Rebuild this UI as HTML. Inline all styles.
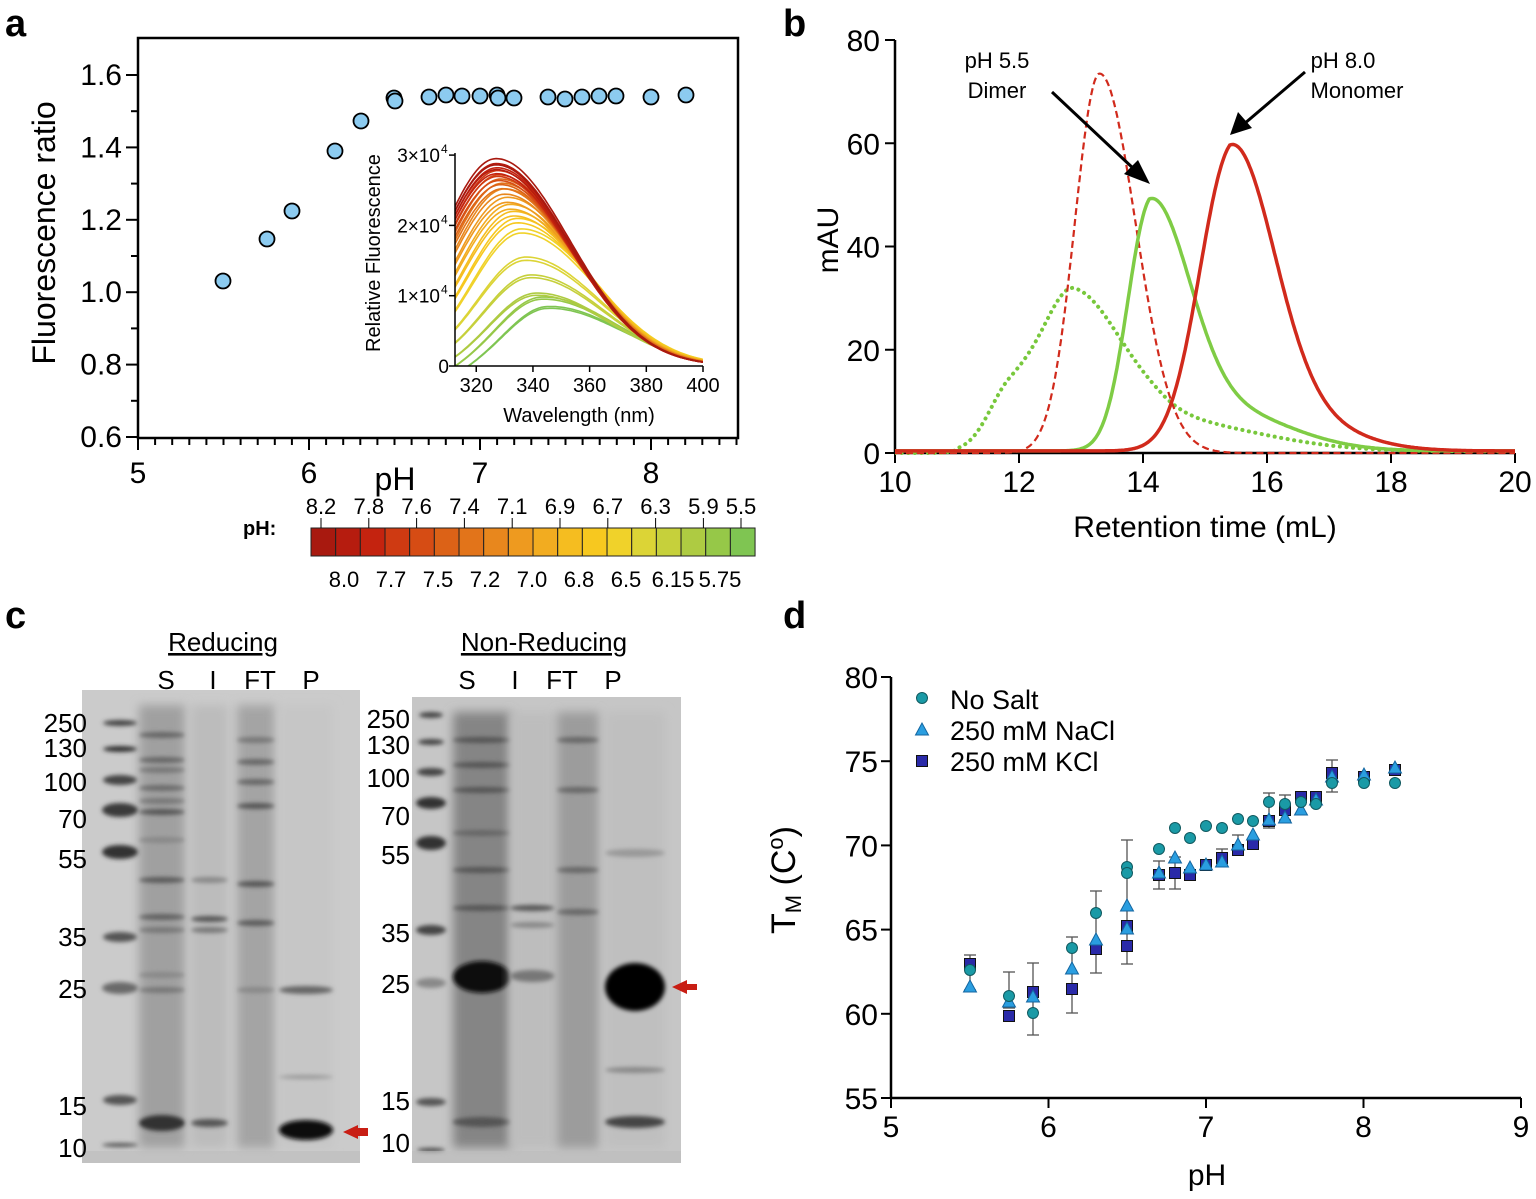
<!DOCTYPE html>
<html><head><meta charset="utf-8"><style>
html,body{margin:0;padding:0;background:#fff;}
svg{display:block;font-family:"Liberation Sans",Arial,sans-serif;}
</style></head><body>
<svg id="s" width="1536" height="1199" viewBox="0 0 1536 1199" xmlns="http://www.w3.org/2000/svg">
<defs>
<filter id="bl" x="-20%" y="-200%" width="140%" height="500%"><feGaussianBlur stdDeviation="2.2"/></filter>
<filter id="bl2" x="-20%" y="-50%" width="140%" height="200%"><feGaussianBlur stdDeviation="5"/></filter>
<clipPath id="ins"><rect x="455" y="153" width="248" height="213"/></clipPath>
<clipPath id="bc"><rect x="895" y="35" width="625" height="420"/></clipPath>
<clipPath id="g1"><rect x="82" y="690" width="278" height="473"/></clipPath>
<clipPath id="g2"><rect x="412" y="697" width="269" height="466"/></clipPath>
</defs>
<g font-weight="bold" font-size="38">
<text x="5" y="36">a</text><text x="783" y="36">b</text><text x="5" y="628">c</text><text x="783" y="628">d</text>
</g>
<g id="A"></g><g id="B"></g><g id="C"></g><g id="D"></g>
</svg>
<script>
const NS="http://www.w3.org/2000/svg";
function el(p,t,a,txt){const e=document.createElementNS(NS,t);for(const k in a)e.setAttribute(k,a[k]);if(txt!==undefined)e.textContent=txt;p.appendChild(e);return e;}
const A=document.getElementById('A'),B=document.getElementById('B'),C=document.getElementById('C'),D=document.getElementById('D');
// ---------- Panel a ----------
el(A,'rect',{x:138,y:38,width:600,height:400,fill:'none',stroke:'#000','stroke-width':2.5});
const ax=v=>138+(v-5)*171, ay=v=>437-(v-0.6)*362;
for(let v=5;v<=8.5;v+=0.1){const x=ax(v);if(x>738)break;const maj=Math.abs(v-Math.round(v))<0.01;el(A,'line',{x1:x,x2:x,y1:438,y2:maj?450:445,stroke:'#000','stroke-width':2});}
[5,6,7,8].forEach(v=>el(A,'text',{x:ax(v),y:483,'font-size':30,'text-anchor':'middle'},v));
for(let i=0;i<=10;i++){const v=0.6+i*0.1,y=ay(v);el(A,'line',{x1:i%2?131:126,x2:138,y1:y,y2:y,stroke:'#000','stroke-width':2});
 if(i%2==0)el(A,'text',{x:122,y:y+10,'font-size':30,'text-anchor':'end'},v.toFixed(1));}
el(A,'text',{x:395,y:490,'font-size':32,'text-anchor':'middle'},'pH');
el(A,'text',{x:0,y:0,'font-size':32,'text-anchor':'middle',transform:'translate(55,233) rotate(-90)'},'Fluorescence ratio');
[[223,281],[267,239],[292,211],[335,151],[361,121],[394,98],[395,101],[429,97],[446,95],[462,96],[480,96],[497,95],[498,98],[514,98],[548,97],[565,99],[582,97],[599,96],[616,96],[651,97],[686,95]].forEach(p=>el(A,'circle',{cx:p[0],cy:p[1],r:7.5,fill:'#8ccbf0',stroke:'#000','stroke-width':1.8}));
// inset
const cols=['#a8190f','#b61c0f','#c4230f','#cf3a12','#d64c14','#dc6217','#e2741a','#e8871d','#ee9a1f','#f2ac20','#f5bd20','#f7c81f','#f0d22a','#dcd436','#c6d03b','#aecb42','#96c848','#7fc552'];
const amps=[2.95,2.88,2.82,2.78,2.72,2.66,2.6,2.52,2.4,2.3,2.2,2.1,1.95,1.55,1.3,1.05,1.0,0.87];
const ix=l=>455+(l-312.5)*(248/87.5), iy=v=>366-v*70.3;
const ig=el(A,'g',{'clip-path':'url(#ins)'});
for(let i=17;i>=0;i--){for(let r=0;r<2;r++){const t=i/17;const Am=amps[i]*(1-0.03*r);const pk=327+18*t*t;const sl=20-5*t*t;let d='';
 for(let l=310;l<=401;l+=1){const dl=l-pk;const s=dl<0?sl:26;let v=Am*Math.exp(-dl*dl/(2*s*s));if(t>0.8)v-=0.25*(t-0.8)*5*Math.exp(-(l-310)/15);d+=(l==310?'M':'L')+ix(l).toFixed(1)+','+iy(v).toFixed(1);}
 el(ig,'path',{d:d,fill:'none',stroke:cols[i],'stroke-width':1.6});}}
el(A,'line',{x1:455,x2:455,y1:153,y2:366,stroke:'#000','stroke-width':1.5});
el(A,'line',{x1:455,x2:703,y1:366,y2:366,stroke:'#000','stroke-width':1.5});
[[0,'0'],[1,'1×10'],[2,'2×10'],[3,'3×10']].forEach(p=>{const y=iy(p[0]);el(A,'line',{x1:449,x2:455,y1:y,y2:y,stroke:'#000','stroke-width':1.5});
 el(A,'text',{x:p[0]?440:449,y:y+7,'font-size':19,'text-anchor':'end'},p[1]);if(p[0])el(A,'text',{x:441,y:y-2,'font-size':12},'4');});
[320,340,360,380,400].forEach(v=>{el(A,'line',{x1:ix(v),x2:ix(v),y1:366,y2:372,stroke:'#000','stroke-width':1.5});el(A,'text',{x:ix(v),y:392,'font-size':20,'text-anchor':'middle'},v);});
el(A,'text',{x:579,y:422,'font-size':20,'text-anchor':'middle'},'Wavelength (nm)');
el(A,'text',{x:0,y:0,'font-size':20,'text-anchor':'middle',transform:'translate(380,253) rotate(-90)'},'Relative Fluorescence');
// colorbar
el(A,'text',{x:243,y:535,'font-size':20,'font-weight':'bold'},'pH:');
for(let i=0;i<18;i++)el(A,'rect',{x:311+i*24.67,y:528,width:24.67,height:28,fill:cols[i],stroke:'#222','stroke-width':1});
['8.2','7.8','7.6','7.4','7.1','6.9','6.7','6.3','5.9','5.5'].forEach((s,i)=>{const xx=i==9?741:321+i*47.8;el(A,'text',{x:xx,y:514,'font-size':22,'text-anchor':'middle'},s);el(A,'line',{x1:xx,x2:xx,y1:518,y2:528,stroke:'#000'});});
['8.0','7.7','7.5','7.2','7.0','6.8','6.5','6.15','5.75'].forEach((s,i)=>{const xx=344+i*47;el(A,'text',{x:xx,y:587,'font-size':22,'text-anchor':'middle'},s);});
// ---------- Panel b ----------
const bx=v=>895+(v-10)*62, by=v=>453-v*5.1625;
el(B,'line',{x1:895,x2:895,y1:40,y2:454,stroke:'#000','stroke-width':2.5});
el(B,'line',{x1:894,x2:1515,y1:453,y2:453,stroke:'#000','stroke-width':2.5});
for(let v=0;v<=80;v+=20){el(B,'line',{x1:885,x2:895,y1:by(v),y2:by(v),stroke:'#000','stroke-width':2});el(B,'text',{x:880,y:by(v)+11,'font-size':30,'text-anchor':'end'},v);}
for(let v=10;v<=20;v+=2){el(B,'line',{x1:bx(v),x2:bx(v),y1:453,y2:463,stroke:'#000','stroke-width':2});el(B,'text',{x:bx(v),y:492,'font-size':30,'text-anchor':'middle'},v);}
el(B,'text',{x:1205,y:537,'font-size':30,'text-anchor':'middle'},'Retention time (mL)');
el(B,'text',{x:0,y:0,'font-size':30,'text-anchor':'middle',transform:'translate(838,240) rotate(-90)'},'mAU');
const ag=(x,m,a,sl,sr)=>{const d=x-m,s=d<0?sl:sr;return a*Math.exp(-d*d/(2*s*s));};
const fR=x=>ag(x,15.4,55,0.5,0.68)+ag(x,16.2,7,0.8,1.0)*(x>15.4?1:Math.exp(-(15.4-x)*3))+0.4;
const fG=x=>ag(x,14.1,45,0.36,0.62)+ag(x,15.2,8,0.9,1.1)*(x>14.1?1:Math.exp(-(14.1-x)*4))+0.4;
const fRd=x=>ag(x,13.3,73.5,0.4,0.58);
const fGd=x=>ag(x,12.9,30,0.5,0.75)+ag(x,11.85,11,0.35,0.5)+ag(x,14.3,6,0.6,1.5)+(x>11?0.3:0);
const bg=el(B,'g',{'clip-path':'url(#bc)'});
function cur(f,st,dash,w,round){let d='';for(let x=10;x<=20;x+=0.02){d+=(d?'L':'M')+bx(x).toFixed(1)+','+by(f(x)).toFixed(1);}el(bg,'path',{d:d,fill:'none',stroke:st,'stroke-width':w,'stroke-dasharray':dash||'none','stroke-linecap':round?'round':'butt'});}
cur(fGd,'#78c83c','0.1,6.5',4,true);
cur(fRd,'#d12a1c','7,4',2.2);
cur(fG,'#7fcc45',null,3.5);
cur(fR,'#d12a1c',null,3.5);
el(B,'text',{x:997,y:68,'font-size':22,'text-anchor':'middle'},'pH 5.5');
el(B,'text',{x:997,y:98,'font-size':22,'text-anchor':'middle'},'Dimer');
el(B,'text',{x:1343,y:68,'font-size':22,'text-anchor':'middle'},'pH 8.0');
el(B,'text',{x:1357,y:98,'font-size':22,'text-anchor':'middle'},'Monomer');
el(B,'line',{x1:1052,y1:92,x2:1135,y2:170,stroke:'#000','stroke-width':3});
el(B,'polygon',{points:'1150,184 1124,174 1138,160',fill:'#000'});
el(B,'line',{x1:1305,y1:72,x2:1244,y2:124,stroke:'#000','stroke-width':3});
el(B,'polygon',{points:'1230,135 1238,112 1252,128',fill:'#000'});
// ---------- Panel c ----------
function gel(clip,x0,y0,w,h,bgc,ladder,lanes){const g=el(C,'g',{'clip-path':'url(#'+clip+')'});
 el(g,'rect',{x:x0,y:y0,width:w,height:h,fill:bgc});
 lanes.forEach(L=>{el(g,'rect',{x:L.x,y:y0+15,width:L.w,height:h-30,fill:L.s,filter:'url(#bl2)'});
  L.b.forEach(b=>el(g,'ellipse',{cx:L.x+L.w/2,cy:b[0],rx:L.w/2,ry:b[2]||3,fill:b[1],filter:'url(#bl)'}));});
 ladder.b.forEach(b=>el(g,'ellipse',{cx:ladder.x,cy:b[0],rx:b[2]||15,ry:b[3]||4,fill:b[1],filter:'url(#bl)'}));
 el(g,'rect',{x:x0,y:y0+h-12,width:w,height:12,fill:'#bcbcbc',opacity:0.6});}
gel('g1',82,690,278,473,'#cbcbcb',{x:120,b:[[723,'#444',17,3],[749,'#333',17,3],[780,'#444',17,5],[810,'#3a3a3a',18,7],[852,'#333',18,7],[937,'#555',17,5],[988,'#6a6a6a',18,6],[1100,'#555',17,5],[1145,'#555',18,2]]},
 [{x:139,w:46,s:'#a0a0a0',b:[[735,'#666'],[760,'#666'],[770,'#777'],[788,'#6a6a6a'],[801,'#777'],[812,'#555'],[840,'#888'],[880,'#5a5a5a'],[917,'#606060'],[930,'#777'],[975,'#888'],[990,'#777'],[1123,'#333',8]]},
  {x:191,w:37,s:'#bcbcbc',b:[[880,'#888'],[919,'#555'],[930,'#777'],[1123,'#555',4]]},
  {x:237,w:38,s:'#a4a4a4',b:[[740,'#777'],[762,'#666'],[782,'#666'],[806,'#555'],[884,'#555'],[923,'#5a5a5a'],[990,'#888']]},
  {x:279,w:54,s:'#c6c6c6',b:[[990,'#666',4],[1077,'#999',2],[1130,'#080808',10]]}]);
gel('g2',412,697,269,466,'#c6c6c6',{x:431,b:[[715,'#444',12,3],[742,'#444',13,3],[772,'#444',14,4],[803,'#333',15,6],[843,'#333',15,7],[930,'#444',15,5],[983,'#888',15,5],[1102,'#555',15,4],[1150,'#444',14,2]]},
 [{x:453,w:58,s:'#858585',b:[[740,'#555'],[765,'#555'],[790,'#555'],[833,'#666'],[870,'#555'],[908,'#555'],[977,'#111',16],[1122,'#555',5]]},
  {x:510,w:45,s:'#bdbdbd',b:[[908,'#555'],[925,'#888'],[976,'#777',6]]},
  {x:557,w:42,s:'#9c9c9c',b:[[740,'#666'],[790,'#666'],[870,'#666'],[912,'#666']]},
  {x:605,w:60,s:'#bfbfbf',b:[[853,'#999',4],[987,'#050505',24],[1070,'#888',3],[1122,'#444',6]]}]);
el(C,'polygon',{points:'343,1132 358,1125 358,1128 368,1128 368,1136 358,1136 358,1139',fill:'#c81e14'});
el(C,'polygon',{points:'672,987 687,980 687,984 697,984 697,990 687,990 687,994',fill:'#c81e14'});
el(C,'text',{x:223,y:651,'font-size':26,'text-anchor':'middle','text-decoration':'underline'},'Reducing');
el(C,'text',{x:544,y:651,'font-size':26,'text-anchor':'middle','text-decoration':'underline'},'Non-Reducing');
[['S',166],['I',213],['FT',260],['P',311],['S',467],['I',515],['FT',562],['P',613]].forEach(p=>el(C,'text',{x:p[1],y:689,'font-size':26,'text-anchor':'middle'},p[0]));
[['250',722],['130',747],['100',781],['70',818],['55',858],['35',936],['25',988],['15',1105],['10',1147]].forEach(p=>el(C,'text',{x:87,y:p[1]+10,'font-size':26,'text-anchor':'end'},p[0]));
[['250',718],['130',744],['100',777],['70',815],['55',854],['35',932],['25',983],['15',1100],['10',1142]].forEach(p=>el(C,'text',{x:410,y:p[1]+10,'font-size':26,'text-anchor':'end'},p[0]));
// ---------- Panel d ----------
const dx=v=>891+(v-5)*157.5, dy=v=>1098-(v-55)*16.84;
el(D,'line',{x1:891,x2:891,y1:677,y2:1099,stroke:'#000','stroke-width':2.5});
el(D,'line',{x1:890,x2:1521,y1:1098,y2:1098,stroke:'#000','stroke-width':2.5});
for(let v=55;v<=80;v+=5){el(D,'line',{x1:881,x2:891,y1:dy(v),y2:dy(v),stroke:'#000','stroke-width':2});el(D,'text',{x:878,y:dy(v)+11,'font-size':30,'text-anchor':'end'},v);}
for(let v=5;v<=9;v++){el(D,'line',{x1:dx(v),x2:dx(v),y1:1098,y2:1108,stroke:'#000','stroke-width':2});el(D,'text',{x:dx(v),y:1137,'font-size':30,'text-anchor':'middle'},v);}
el(D,'text',{x:1207,y:1185,'font-size':30,'text-anchor':'middle'},'pH');
const tm=el(D,'text',{x:0,y:0,'font-size':34,'text-anchor':'middle',transform:'translate(795,880) rotate(-90)'},'T');
el(tm,'tspan',{'font-size':22,dy:6},'M');el(tm,'tspan',{dy:-6},' (C');el(tm,'tspan',{'font-size':22,dy:-12},'o');el(tm,'tspan',{dy:12},')');
[[970,955,990],[1009,972,1008],[1033,963,1035],[1072,937,1013],[1096,891,973],[1127,840,964],[1159,861,889],[1175,857,889],[1332,760,792],[1269,793,828],[1285,795,820],[1238,835,855],[1222,849,865]].forEach(e=>{el(D,'line',{x1:e[0],x2:e[0],y1:e[1],y2:e[2],stroke:'#555','stroke-width':1.3});[e[1],e[2]].forEach(y=>el(D,'line',{x1:e[0]-6,x2:e[0]+6,y1:y,y2:y,stroke:'#555','stroke-width':1.3}));});
const SQ=[[970,964],[1009,1016],[1033,992],[1072,989],[1096,949],[1127,926],[1127,946],[1159,875],[1175,873],[1190,875],[1206,865],[1222,858],[1238,850],[1253,844],[1269,821],[1285,810],[1301,797],[1316,797],[1332,773],[1364,777],[1395,770]];
const TR=[[970,987],[1009,1002],[1033,997],[1072,969],[1096,940],[1127,906],[1127,929],[1159,873],[1175,858],[1190,868],[1206,865],[1222,862],[1238,845],[1253,835],[1269,820],[1285,818],[1301,810],[1316,800],[1332,777],[1364,775],[1395,768]];
const CI=[[970,970],[1009,996],[1033,1013],[1072,948],[1096,913],[1127,867],[1127,873],[1159,849],[1175,828],[1190,838],[1206,826],[1222,828],[1238,819],[1253,821],[1269,802],[1285,804],[1301,802],[1316,804],[1332,783],[1364,783],[1395,783]];
const sq=(x,y)=>el(D,'rect',{x:x-5.5,y:y-5.5,width:11,height:11,fill:'#2a2aa8',stroke:'#111','stroke-width':1});
const tr=(x,y)=>el(D,'polygon',{points:`${x},${y-7} ${x-6.5},${y+5} ${x+6.5},${y+5}`,fill:'#2a9ee0',stroke:'#1466a0','stroke-width':1});
const ci=(x,y)=>el(D,'circle',{cx:x,cy:y,r:5.5,fill:'#1a9aa6',stroke:'#115a60','stroke-width':1});
SQ.forEach(p=>sq(p[0],p[1]));TR.forEach(p=>tr(p[0],p[1]));CI.forEach(p=>ci(p[0],p[1]));
ci(922,698);tr(922,730);sq(922,761);
el(D,'text',{x:950,y:709,'font-size':27},'No Salt');
el(D,'text',{x:950,y:740,'font-size':27},'250 mM NaCl');
el(D,'text',{x:950,y:771,'font-size':27},'250 mM KCl');
</script>
</body></html>
